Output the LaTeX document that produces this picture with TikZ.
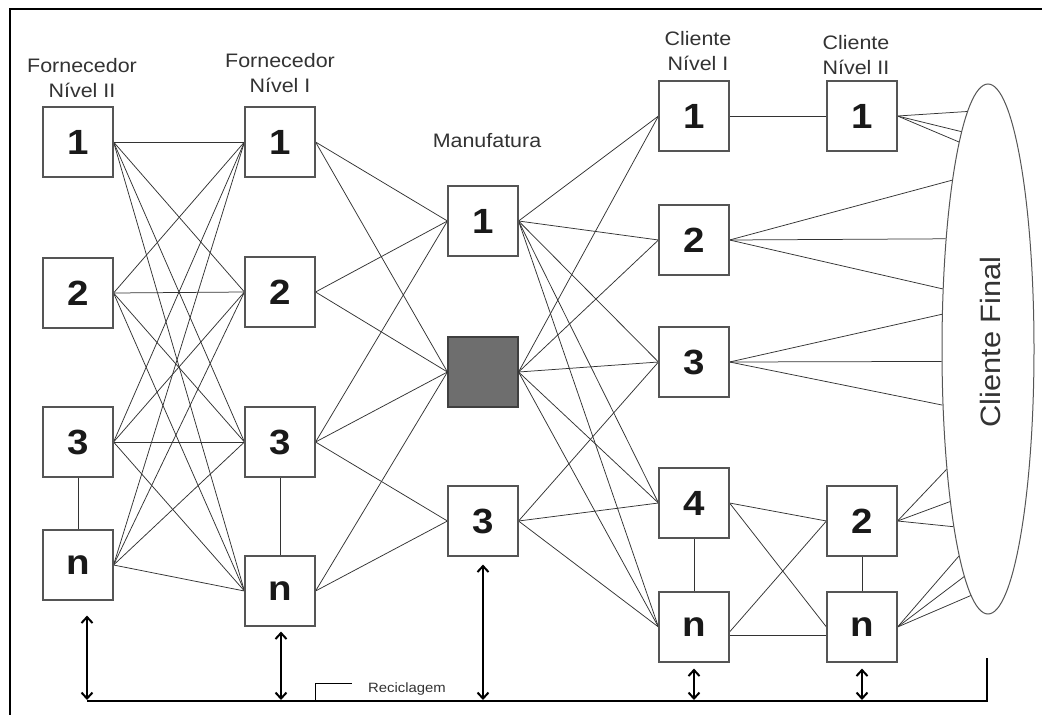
\documentclass[tikz,border=0pt]{standalone}
\usepackage{fontspec}
\setmainfont{Liberation Sans}[FakeStretch=1.1]
\usetikzlibrary{shapes.geometric,arrows.meta,calc}
\definecolor{boxgray}{HTML}{555555}
\definecolor{linkgray}{HTML}{333333}
\definecolor{labelgray}{HTML}{333333}
\definecolor{fillgray}{HTML}{6E6E6E}
\begin{document}
\begin{tikzpicture}[x=1pt,y=-1pt,
  boxnode/.style={draw=boxgray, line width=1.1pt, fill=white, minimum size=70pt,
    inner sep=0pt, font=\fontsize{35}{35}\selectfont\bfseries, text=black!90},
  darkbox/.style={boxnode, fill=fillgray, draw=black!75},
  lbl/.style={align=center, font=\fontsize{19.5}{25}\selectfont, text=labelgray, inner sep=0pt, anchor=base},
  link/.style={draw=linkgray, line width=0.75pt},
  recarrow/.style={line width=2pt, {Straight Barb[length=6pt,width=11pt]}-{Straight Barb[length=6pt,width=11pt]}},
  recline/.style={line width=2.6pt}]
\useasboundingbox (0,0) rectangle (1042,715);
\fill[white] (0,0) rectangle (1042,715);
% outer frame
\draw[line width=1.3pt] (10,715) -- (10,9) -- (1042,9);

% column labels (anchored on the baseline of their last line)
\node[lbl] (labA) at (82,97) {Fornecedor\\Nível II};
\node[lbl] (labB) at (280,92) {Fornecedor\\Nível I};
\node[lbl] (labM) at (487,147) {Manufatura};
\node[lbl] (labC) at (698,70) {Cliente\\Nível I};
\node[lbl] (labD) at (856,74) {Cliente\\Nível II};

% final customer
\node[draw=boxgray, line width=1pt, ellipse, minimum width=92pt, minimum height=530pt, inner sep=0pt] (cf) at (988,349) {};
\node[rotate=90, font=\fontsize{28}{28}\selectfont, text=labelgray, inner sep=0pt] (cft) at (990,342) {Cliente Final};

% supplier tier II
\node[boxnode] (a1) at (78,142) {1};
\node[boxnode] (a2) at (78,293) {2};
\node[boxnode] (a3) at (78,442) {3};
\node[boxnode] (an) at (78,565) {n};
% supplier tier I
\node[boxnode] (b1) at (280,142) {1};
\node[boxnode] (b2) at (280,292) {2};
\node[boxnode] (b3) at (280,442) {3};
\node[boxnode] (bn) at (280,591) {n};
% manufacturing
\node[boxnode] (m1) at (483,221) {1};
\node[darkbox] (m2) at (483,372) {};
\node[boxnode] (m3) at (483,521) {3};
% customer tier I
\node[boxnode] (c1) at (694,116) {1};
\node[boxnode] (c2) at (694,240) {2};
\node[boxnode] (c3) at (694,362) {3};
\node[boxnode] (c4) at (694,503) {4};
\node[boxnode] (cn) at (694,627) {n};
% customer tier II
\node[boxnode] (d1) at (862,116) {1};
\node[boxnode] (d2) at (862,521) {2};
\node[boxnode] (dn) at (862,627) {n};

% supplier tier II -> supplier tier I
\foreach \s in {a1,a2,a3,an}
  \foreach \t in {b1,b2,b3,bn}
    \draw[link] (\s.east) -- (\t.west);
% supplier tier I -> manufacturing
\foreach \s/\t in {b1/m1,b1/m2,b2/m1,b2/m2,b3/m1,b3/m2,b3/m3,bn/m2,bn/m3}
  \draw[link] (\s.east) -- (\t.west);
% manufacturing -> customer tier I
\foreach \s/\t in {m1/c1,m1/c2,m1/c3,m1/c4,m1/cn,m2/c1,m2/c2,m2/c3,m2/c4,m2/cn,m3/c3,m3/c4,m3/cn}
  \draw[link] (\s.east) -- (\t.west);
% customer tier I -> customer tier II
\draw[link] (c1.east) -- (d1.west);
\draw[link] (c4.east) -- (d2.west);
\draw[link] (c4.east) -- (dn.west);
\draw[link] ([yshift=-5pt]cn.east) -- (d2.west);
\draw[link] ([yshift=-8pt]cn.east) -- ([yshift=-8pt]dn.west);
% vertical ties within a tier
\draw[link] (a3.south) -- (an.north);
\draw[link] (b3.south) -- (bn.north);
\draw[link] (c4.south) -- (cn.north);
\draw[link] (d2.south) -- (dn.north);
% to the final customer
\foreach \a in {95.1,97.2,98.5} \draw[link] (d1.east) -- (cf.\a);
\foreach \a in {102.7,111.0,127.2} \draw[link] (c2.east) -- (cf.\a);
\foreach \a in {143.3,195.8,231.3} \draw[link] (c3.east) -- (cf.\a);
\foreach \a in {251.5,256.3,259.5} \draw[link] (d2.east) -- (cf.\a);
\foreach \a in {262.2,264.2,266.6} \draw[link] (dn.east) -- (cf.\a);

% redraw box outlines over the links
\foreach \n in {a1,a2,a3,an,b1,b2,b3,bn,m1,m3,c1,c2,c3,c4,cn,d1,d2,dn}
  \draw[draw=boxgray, line width=1.1pt] (\n.south west) rectangle (\n.north east);

% recycling line
\coordinate (rl) at (87,701);
\coordinate (rr) at (987,701);
\coordinate (rt) at (987,658);
\draw[recline] (rl) -- (rr) -- (rt);
\coordinate (arA) at ($(an.south)+(9,15)$);
\coordinate (arB) at ($(bn.south)+(1,5)$);
\coordinate (arM) at ($(m3.south)+(0,8)$);
\coordinate (arC) at ($(cn.south)+(0,6)$);
\coordinate (arD) at ($(dn.south)+(0,6)$);
\foreach \p in {arA,arB,arM,arC,arD}
  \draw[recarrow] (\p) -- ($(\p |- rl)+(0,-1)$);
% recycling label
\coordinate (rk) at (315,701);
\draw[line width=0.7pt] (rk) -- (315,683) -- (352,683);
\node[font=\fontsize{13.5}{14}\selectfont, text=labelgray, anchor=base west, inner sep=0pt] (recl) at (368,692) {Reciclagem};
\end{tikzpicture}
\end{document}
